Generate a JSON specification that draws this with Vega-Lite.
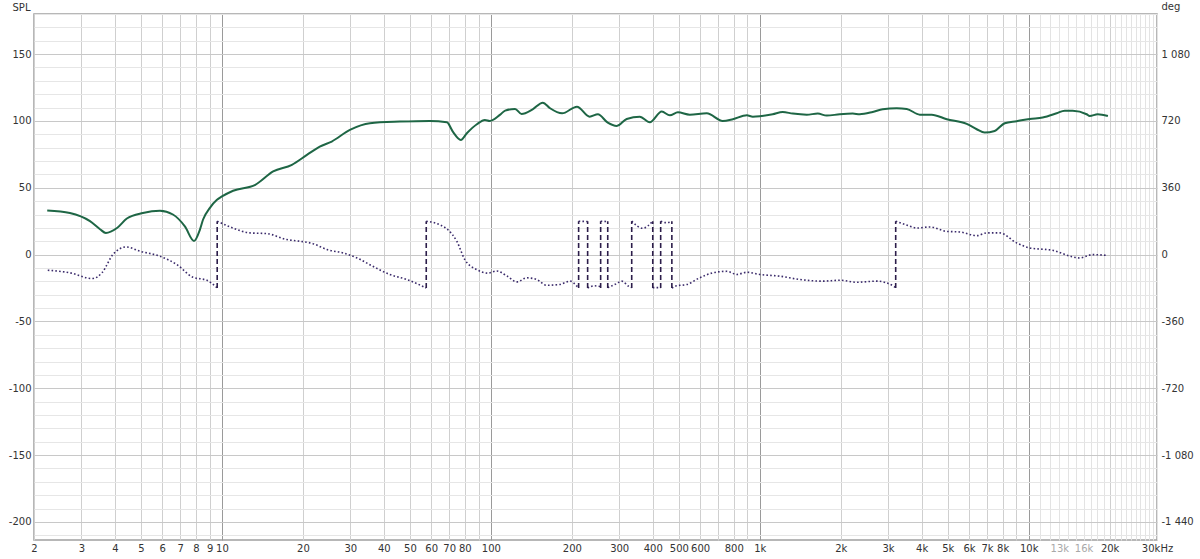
{
  "$schema": "https://vega.github.io/schema/vega-lite/v6.json",
  "width": 1123,
  "height": 526,
  "autosize": {"type": "none"},
  "padding": {"left": 34, "top": 14, "right": 43, "bottom": 19},
  "background": "white",
  "config": {
    "view": {"stroke": "#a0a0a0", "strokeWidth": 1.5},
    "axis": {
      "labelFont": "DejaVu Sans", "labelFontSize": 10, "labelColor": "#333333",
      "titleFont": "DejaVu Sans", "titleFontSize": 10, "titleFontWeight": "normal", "titleColor": "#333333",
      "ticks": false, "domain": false
    }
  },
  "datasets": {
    "spl": [
      {"f": 2.24, "v": 33.0}, {"f": 2.72, "v": 31.1}, {"f": 3.23, "v": 25.0}, {"f": 3.52, "v": 19.0},
      {"f": 3.70, "v": 16.2}, {"f": 4.07, "v": 19.9}, {"f": 4.43, "v": 27.0}, {"f": 5.08, "v": 31.1},
      {"f": 5.88, "v": 32.8}, {"f": 6.57, "v": 30.0}, {"f": 7.28, "v": 21.1}, {"f": 7.87, "v": 10.2},
      {"f": 8.28, "v": 18.7}, {"f": 8.50, "v": 26.1}, {"f": 9.02, "v": 35.0}, {"f": 9.58, "v": 41.0},
      {"f": 10.0, "v": 43.5}, {"f": 11.0, "v": 47.8}, {"f": 13.3, "v": 52.2}, {"f": 15.5, "v": 62.2},
      {"f": 18.2, "v": 67.2}, {"f": 20.7, "v": 74.6}, {"f": 23.1, "v": 80.8}, {"f": 25.6, "v": 84.6},
      {"f": 29.9, "v": 93.3}, {"f": 35.5, "v": 98.3}, {"f": 45.9, "v": 99.5}, {"f": 59.3, "v": 100.0},
      {"f": 68.6, "v": 99.0}, {"f": 72.2, "v": 92.0}, {"f": 77.3, "v": 85.8}, {"f": 81.4, "v": 90.8},
      {"f": 88.7, "v": 97.5}, {"f": 95.0, "v": 100.7}, {"f": 99.1, "v": 100.0}, {"f": 108, "v": 104.5},
      {"f": 113, "v": 107.7}, {"f": 123, "v": 109.0}, {"f": 130, "v": 105.2}, {"f": 143, "v": 108.7},
      {"f": 156, "v": 113.7}, {"f": 166, "v": 109.5}, {"f": 184, "v": 105.7}, {"f": 209, "v": 110.7},
      {"f": 233, "v": 103.2}, {"f": 250, "v": 105.0}, {"f": 272, "v": 98.7}, {"f": 294, "v": 96.3},
      {"f": 320, "v": 101.5}, {"f": 358, "v": 103.2}, {"f": 390, "v": 99.0}, {"f": 432, "v": 107.0},
      {"f": 463, "v": 104.2}, {"f": 496, "v": 106.5}, {"f": 549, "v": 104.7}, {"f": 635, "v": 105.7},
      {"f": 728, "v": 100.0}, {"f": 794, "v": 101.3}, {"f": 895, "v": 104.2}, {"f": 942, "v": 103.2},
      {"f": 1000, "v": 103.5}, {"f": 1117, "v": 105.0}, {"f": 1217, "v": 106.7}, {"f": 1326, "v": 105.5},
      {"f": 1495, "v": 104.7}, {"f": 1643, "v": 105.5}, {"f": 1774, "v": 104.0}, {"f": 1983, "v": 105.0},
      {"f": 2216, "v": 105.5}, {"f": 2354, "v": 105.0}, {"f": 2630, "v": 106.7}, {"f": 2865, "v": 108.7},
      {"f": 3230, "v": 109.5}, {"f": 3520, "v": 109.0}, {"f": 3934, "v": 104.7}, {"f": 4358, "v": 104.7},
      {"f": 4958, "v": 101.3}, {"f": 5881, "v": 97.8}, {"f": 6406, "v": 93.8}, {"f": 6860, "v": 91.3},
      {"f": 7474, "v": 92.5}, {"f": 8144, "v": 98.3}, {"f": 9022, "v": 99.8}, {"f": 10085, "v": 101.5},
      {"f": 11272, "v": 102.5}, {"f": 12706, "v": 105.7}, {"f": 13608, "v": 107.7}, {"f": 14576, "v": 107.7},
      {"f": 16426, "v": 105.0}, {"f": 16860, "v": 103.7}, {"f": 18050, "v": 105.0}, {"f": 19700, "v": 103.7}
    ],
    "phase": [
      {"f": 2.25, "v": -84, "s": 1}, {"f": 2.72, "v": -98, "s": 1}, {"f": 3.29, "v": -129, "s": 1},
      {"f": 3.58, "v": -98, "s": 1}, {"f": 3.93, "v": 0, "s": 1}, {"f": 4.40, "v": 41, "s": 1},
      {"f": 4.96, "v": 18, "s": 1}, {"f": 5.88, "v": -9, "s": 1}, {"f": 6.80, "v": -54, "s": 1},
      {"f": 7.80, "v": -122, "s": 1}, {"f": 8.79, "v": -138, "s": 1}, {"f": 9.6, "v": -180, "s": 1},
      {"f": 9.6, "v": 180, "s": 2}, {"f": 11.0, "v": 143, "s": 2}, {"f": 12.7, "v": 117, "s": 2},
      {"f": 14.7, "v": 113, "s": 2}, {"f": 17.4, "v": 81, "s": 2}, {"f": 19.5, "v": 72, "s": 2},
      {"f": 21.8, "v": 59, "s": 2}, {"f": 24.6, "v": 27, "s": 2}, {"f": 28.2, "v": 9, "s": 2},
      {"f": 31.8, "v": -18, "s": 2}, {"f": 36.4, "v": -63, "s": 2}, {"f": 42.1, "v": -107, "s": 2},
      {"f": 48.7, "v": -134, "s": 2}, {"f": 57.5, "v": -180, "s": 2},
      {"f": 57.5, "v": 180, "s": 3}, {"f": 64.6, "v": 161, "s": 3}, {"f": 69.2, "v": 134, "s": 3},
      {"f": 74.7, "v": 72, "s": 3}, {"f": 80.0, "v": -27, "s": 3}, {"f": 88.7, "v": -81, "s": 3},
      {"f": 97.5, "v": -100, "s": 3}, {"f": 105, "v": -88, "s": 3}, {"f": 115, "v": -116, "s": 3},
      {"f": 125, "v": -147, "s": 3}, {"f": 136, "v": -125, "s": 3}, {"f": 148, "v": -134, "s": 3},
      {"f": 161, "v": -165, "s": 3}, {"f": 180, "v": -161, "s": 3}, {"f": 197, "v": -143, "s": 3},
      {"f": 209, "v": -170, "s": 3}, {"f": 212, "v": -180, "s": 3},
      {"f": 212, "v": 180, "s": 4}, {"f": 229, "v": 178, "s": 4},
      {"f": 229, "v": -180, "s": 5}, {"f": 242, "v": -168, "s": 5}, {"f": 256, "v": -172, "s": 5},
      {"f": 256, "v": 180, "s": 6}, {"f": 272, "v": 178, "s": 6},
      {"f": 272, "v": -178, "s": 7}, {"f": 290, "v": -160, "s": 7}, {"f": 307, "v": -143, "s": 7},
      {"f": 325, "v": -170, "s": 7}, {"f": 334, "v": -178, "s": 7},
      {"f": 334, "v": 180, "s": 8}, {"f": 367, "v": 142, "s": 8}, {"f": 400, "v": 180, "s": 8},
      {"f": 400, "v": -178, "s": 9}, {"f": 428, "v": -178, "s": 9},
      {"f": 428, "v": 180, "s": 10}, {"f": 450, "v": 172, "s": 10}, {"f": 471, "v": 178, "s": 10},
      {"f": 471, "v": -180, "s": 11}, {"f": 490, "v": -168, "s": 11}, {"f": 535, "v": -161, "s": 11},
      {"f": 598, "v": -125, "s": 11}, {"f": 669, "v": -98, "s": 11}, {"f": 754, "v": -90, "s": 11},
      {"f": 821, "v": -107, "s": 11}, {"f": 895, "v": -95, "s": 11}, {"f": 1000, "v": -107, "s": 11},
      {"f": 1186, "v": -116, "s": 11}, {"f": 1408, "v": -134, "s": 11}, {"f": 1715, "v": -143, "s": 11},
      {"f": 1983, "v": -138, "s": 11}, {"f": 2294, "v": -149, "s": 11}, {"f": 2722, "v": -143, "s": 11},
      {"f": 3175, "v": -174, "s": 11}, {"f": 3202, "v": -180, "s": 11},
      {"f": 3202, "v": 180, "s": 12}, {"f": 3500, "v": 160, "s": 12}, {"f": 3850, "v": 143, "s": 12},
      {"f": 4285, "v": 149, "s": 12}, {"f": 4958, "v": 125, "s": 12}, {"f": 5540, "v": 122, "s": 12},
      {"f": 6406, "v": 102, "s": 12}, {"f": 6979, "v": 117, "s": 12}, {"f": 7800, "v": 117, "s": 12},
      {"f": 9022, "v": 63, "s": 12}, {"f": 10085, "v": 36, "s": 12}, {"f": 12280, "v": 23, "s": 12},
      {"f": 14576, "v": -12, "s": 12}, {"f": 15473, "v": -18, "s": 12}, {"f": 17292, "v": 0, "s": 12},
      {"f": 19490, "v": -4, "s": 12}
    ],
    "wraps": [
      {"f": 9.6, "lo": -180, "hi": 180}, {"f": 57.5, "lo": -180, "hi": 180},
      {"f": 212, "lo": -180, "hi": 180}, {"f": 229, "lo": -180, "hi": 180},
      {"f": 256, "lo": -180, "hi": 180}, {"f": 272, "lo": -180, "hi": 180},
      {"f": 334, "lo": -180, "hi": 180}, {"f": 400, "lo": -180, "hi": 180},
      {"f": 428, "lo": -180, "hi": 180}, {"f": 471, "lo": -180, "hi": 180},
      {"f": 3202, "lo": -180, "hi": 180}
    ]
  },
  "encoding": {
    "x": {
      "field": "f", "type": "quantitative",
      "scale": {"type": "log", "domain": [2, 30000], "nice": false},
      "axis": {
        "title": null,
        "values": [2,3,4,5,6,7,8,9,10,20,30,40,50,60,70,80,90,100,200,300,400,500,600,700,800,900,1000,2000,3000,4000,5000,6000,7000,8000,9000,10000,11000,12000,13000,14000,15000,16000,17000,18000,19000,20000,21000,22000,23000,24000,25000,26000,27000,28000,29000,30000],
        "labelExpr": "datum.value == 30000 ? '30kHz' : (datum.value >= 1000 ? (indexof([1000,2000,3000,4000,5000,6000,7000,8000,10000,13000,16000,20000], datum.value) >= 0 ? toString(datum.value/1000) + 'k' : '') : (indexof([90,700,900], datum.value) >= 0 ? '' : toString(datum.value)))",
        "labelColor": {"condition": {"test": "datum.value == 13000 || datum.value == 16000", "value": "#a8a8a8"}, "value": "#333333"},
        "labelPadding": 3,
        "labelOverlap": false,
        "labelFlush": false,
        "labelBound": false,
        "grid": true,
        "gridColor": {"condition": [
          {"test": "datum.value == 10 || datum.value == 100 || datum.value == 1000 || datum.value == 10000", "value": "#9a9a9a"},
          {"test": "datum.value > 10000 && datum.value != 20000", "value": "#e3e3e3"}
        ], "value": "#cfcfcf"},
        "gridWidth": 1
      }
    }
  },
  "layer": [
    {
      "data": {"name": "spl"},
      "mark": {"type": "line", "color": "#1e6645", "strokeWidth": 2, "interpolate": "monotone"},
      "encoding": {
        "y": {
          "field": "v", "type": "quantitative",
          "scale": {"domain": [-213.5, 180], "nice": false, "zero": false},
          "axis": {
            "orient": "left",
            "title": "SPL",
            "titleAngle": 0, "titleX": -22, "titleY": -7, "titleAlign": "left", "titleBaseline": "middle",
            "values": [-210,-200,-190,-180,-170,-160,-150,-140,-130,-120,-110,-100,-90,-80,-70,-60,-50,-40,-30,-20,-10,0,10,20,30,40,50,60,70,80,90,100,110,120,130,140,150,160,170,180],
            "labelExpr": "datum.value % 50 == 0 ? toString(datum.value) : ''",
            "labelPadding": 3,
            "labelOverlap": false,
            "labelBound": false,
            "labelFlush": false,
            "grid": true,
            "gridColor": {"condition": {"test": "datum.value % 50 == 0", "value": "#c8c8c8"}, "value": "#e6e6e6"},
            "gridWidth": 1
          }
        }
      }
    },
    {
      "encoding": {
        "y": {
          "field": "v", "type": "quantitative",
          "scale": {"domain": [-1537.2, 1296], "nice": false, "zero": false},
          "axis": {
            "orient": "right",
            "title": "deg",
            "titleAngle": 0, "titleX": 4, "titleY": -8, "titleAlign": "left", "titleBaseline": "middle",
            "values": [-1440, -1080, -720, -360, 0, 360, 720, 1080],
            "labelExpr": "datum.value == 1080 ? '1 080' : (datum.value == -1080 ? '-1 080' : (datum.value == -1440 ? '-1 440' : toString(datum.value)))",
            "labelPadding": 4,
            "labelOverlap": false,
            "labelBound": false,
            "labelFlush": false,
            "grid": false
          }
        }
      },
      "layer": [
        {
          "data": {"name": "phase"},
          "mark": {"type": "line", "color": "#3b2b6b", "strokeWidth": 1.6, "strokeDash": [1.6, 2.2], "interpolate": "monotone"},
          "encoding": {
            "detail": {"field": "s", "type": "nominal"}
          }
        },
        {
          "data": {"name": "wraps"},
          "mark": {"type": "rule", "color": "#2c1d4a", "strokeWidth": 1.6, "strokeDash": [5, 3]},
          "encoding": {
            "y": {
              "field": "lo", "type": "quantitative",
              "scale": {"domain": [-1537.2, 1296], "nice": false, "zero": false},
              "axis": {
                "orient": "right",
                "title": "deg",
                "titleAngle": 0, "titleX": 4, "titleY": -8, "titleAlign": "left", "titleBaseline": "middle",
                "values": [-1440, -1080, -720, -360, 0, 360, 720, 1080],
                "labelExpr": "datum.value == 1080 ? '1 080' : (datum.value == -1080 ? '-1 080' : (datum.value == -1440 ? '-1 440' : toString(datum.value)))",
                "labelPadding": 4,
                "labelOverlap": false,
                "labelBound": false,
                "labelFlush": false,
                "grid": false
              }
            },
            "y2": {"field": "hi"}
          }
        }
      ]
    }
  ],
  "resolve": {"scale": {"y": "independent"}, "axis": {"y": "independent"}}
}
